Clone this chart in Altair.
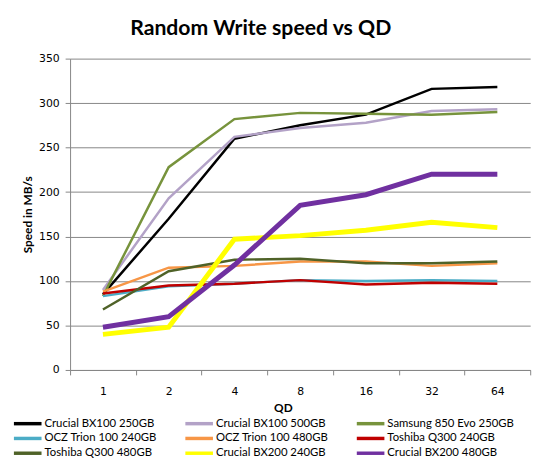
import altair as alt
import pandas as pd

qd = ["1", "2", "4", "8", "16", "32", "64"]

series = [
    "Crucial BX100 250GB", "Crucial BX100 500GB", "Samsung 850 Evo 250GB",
    "OCZ Trion 100 240GB", "OCZ Trion 100 480GB", "Toshiba Q300 240GB",
    "Toshiba Q300 480GB", "Crucial BX200 240GB", "Crucial BX200 480GB",
]
colors = ["#000000", "#B3A2C7", "#77933C", "#4BACC6", "#F79646",
          "#C00000", "#4F6228", "#FFFF00", "#7030A0"]
widths = [2.5, 2.5, 2.5, 2.5, 2.5, 2.5, 2.5, 5, 5]

bx100_250 = [85, 170, 260, 275, 287, 316, 318]
bx100_500 = [90, 193, 262, 272, 278, 291, 293]
evo_250 = [83, 228, 282, 289, 288, 287, 290]
trion_240 = [83, 94, 97, 101, 100, 101, 100]
trion_480 = [88, 115, 117, 122, 122, 117, 120]
q300_240 = [86, 95, 97, 101, 96, 98, 97]
q300_480 = [68, 111, 124, 125, 120, 120, 122]
bx200_240 = [40, 48, 147, 151, 157, 166, 160]
bx200_480 = [48, 60, 118, 185, 197, 220, 220]

values = [bx100_250, bx100_500, evo_250, trion_240, trion_480,
          q300_240, q300_480, bx200_240, bx200_480]

rows = []
for name, w, vals in zip(series, widths, values):
    for i, (q, v) in enumerate(zip(qd, vals)):
        rows.append({"drive": name, "qd": q, "speed": v, "w": w, "step": i})
data = pd.DataFrame(rows)

# a long flat stroke drawn off a small symbol, so rows stay short
legend = alt.Legend(
    title=None, orient="none", direction="horizontal", legendX=-59, legendY=362.5,
    columns=3, gridAlign="all", columnPadding=7, rowPadding=0,
    symbolType="M-1,0H3.67", symbolSize=144, symbolStrokeWidth=3.5, padding=0,
    labelFont="Lato", labelFontSize=11.5, labelColor="#000000", labelOffset=17,
)

chart = alt.Chart(data).mark_line(strokeJoin="miter").encode(
    x=alt.X("qd:N", sort=qd, title="QD",
            scale=alt.Scale(type="band", paddingInner=0, paddingOuter=0),
            axis=alt.Axis(labelAngle=0, tickBand="extent", titleX=216,
                          labelPadding=11, titlePadding=6)),
    y=alt.Y("speed:Q", title="Speed in MB/s",
            scale=alt.Scale(domain=[0, 350]),
            axis=alt.Axis(values=[0, 50, 100, 150, 200, 250, 300, 350])),
    color=alt.Color("drive:N", scale=alt.Scale(domain=series, range=colors),
                    legend=legend),
    strokeWidth=alt.StrokeWidth("w:Q", scale=None),
    order="step:Q",
).properties(
    width=467, height=316,
    autosize=alt.AutoSizeParams(type="none"),
    padding={"left": 63, "top": 48, "right": 14, "bottom": 88},
    title=alt.Title("Random Write speed vs QD", font="Lato", fontSize=21.5,
                    fontWeight="bold", color="#000000", dx=-40, offset=13),
).configure_view(
    stroke=None
).configure_axis(
    labelFont="DejaVu Sans", labelFontSize=11, labelColor="#000000",
    titleFont="Lato", titleFontSize=12, titleFontWeight="bold", titleColor="#000000",
    domainColor="#868686", tickColor="#868686", gridColor="#868686",
    tickSize=5, labelPadding=6,
).configure_axisY(
    grid=True, titlePadding=4,
).configure_axisX(
    grid=False,
)

chart.save("out.html", embed_options={"renderer": "svg", "actions": False})
